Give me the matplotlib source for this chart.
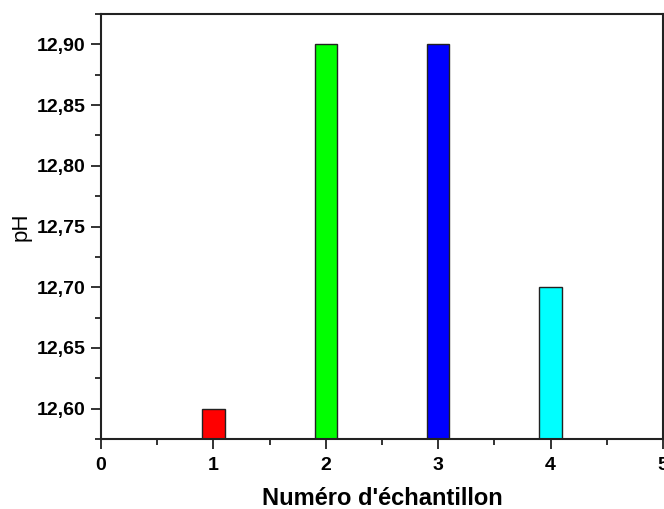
import numpy as np
import matplotlib.pyplot as plt
from matplotlib.ticker import MultipleLocator, FuncFormatter

plt.rcParams['font.family'] = ['Liberation Sans', 'DejaVu Sans']

# Data
samples = [1, 2, 3, 4]
ph_values = [12.60, 12.90, 12.90, 12.70]
bar_colors = ['#ff0000', '#00ff00', '#0000ff', '#00ffff']

fig = plt.figure(figsize=(6.64, 5.09), dpi=100)
ax = fig.add_axes([0.152, 0.1375, 0.8465, 0.835])

y_bottom = 12.575
ax.bar(samples, [v - y_bottom for v in ph_values], bottom=y_bottom, width=0.2,
       color=bar_colors, edgecolor='#222222', linewidth=1.0)

ax.set_xlim(0, 5)
ax.set_ylim(y_bottom, 12.925)

ax.xaxis.set_major_locator(MultipleLocator(1))
ax.xaxis.set_minor_locator(MultipleLocator(0.5))
ax.yaxis.set_major_locator(MultipleLocator(0.05))
ax.yaxis.set_minor_locator(MultipleLocator(0.025))
ax.yaxis.set_major_formatter(FuncFormatter(lambda v, p: f"{v:.2f}".replace('.', ',')))

ax.tick_params(which='both', direction='out', top=False, right=False, width=1.3, color='#222222')
ax.tick_params(which='major', length=7, pad=4)
ax.tick_params(axis='x', which='major', pad=6)
ax.tick_params(which='minor', length=4)
for lab in ax.get_xticklabels() + ax.get_yticklabels():
    lab.set_fontweight('bold')
    lab.set_fontsize(14)
for s in ax.spines.values():
    s.set_linewidth(1.5)
    s.set_color('#222222')

ax.set_xlabel("Numéro d'échantillon", fontsize=17, fontweight='bold', labelpad=9)
ax.set_ylabel("pH", fontsize=16, labelpad=4)

fig.savefig('out.png', dpi=100)
